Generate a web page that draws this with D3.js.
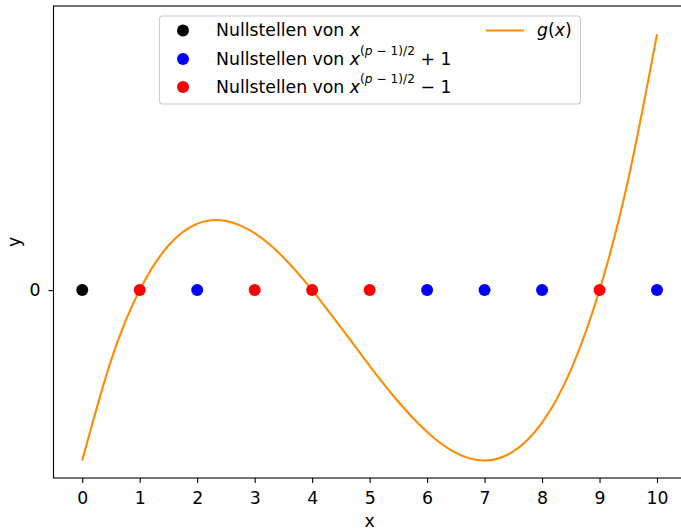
<!DOCTYPE html>
<html><head><meta charset="utf-8">
<script src="https://cdn.jsdelivr.net/npm/d3@7/dist/d3.min.js"></script>
<style>body{margin:0;background:#fff}svg{display:block}text{font-family:"DejaVu Sans",sans-serif}</style>
</head><body>
<script>
// data
const zeroX = [0];
const plusOneX = [2, 6, 7, 8, 10];
const minusOneX = [1, 3, 4, 5, 9];
const curveX = [0,0.5,1,1.5,2,2.5,3,3.5,4,4.5,5,5.5,6,6.5,7,7.5,8,8.5,9,9.5,10];
const curveY = [-36,-14.9,0,9.4,14,14.6,12,6.9,0,-7.9,-16,-23.6,-30,-34.4,-36,-34.1,-28,-16.9,0,23.4,54];
const xTicks = [0,1,2,3,4,5,6,7,8,9,10];
const yTicks = [0];

const W = 681, H = 530, FS = 17.3;
const L = 53.5, R = 685.75, T = 6, B = 478;
const svg = d3.select("body").append("svg").attr("width", W).attr("height", H);
const x = d3.scaleLinear().domain([-0.5, 10.5]).range([L, R]);
const y = d3.scaleLinear().domain([-39.7, 60]).range([B, T]);

// curve
const line = d3.line().x(d => x(d[0])).y(d => y(d[1])).curve(d3.curveNatural);
svg.append("path").datum(curveX.map((v, i) => [v, curveY[i]]))
  .attr("d", line).attr("fill", "none").attr("stroke", "#ff8c00").attr("stroke-width", 2.1);

// points
const groups = [[zeroX, "#000"], [plusOneX, "#0000ff"], [minusOneX, "#ff0000"]];
groups.forEach(([arr, c]) => {
  svg.append("g").selectAll("circle").data(arr).join("circle")
    .attr("cx", d => x(d)).attr("cy", y(0)).attr("r", 6).attr("fill", c);
});

// axes
const xa = svg.append("g").attr("transform", `translate(0,${B})`)
  .call(d3.axisBottom(x).tickValues(xTicks).tickSize(5).tickPadding(8.5).tickSizeOuter(0));
const ya = svg.append("g").attr("transform", `translate(${L},0)`)
  .call(d3.axisLeft(y).tickValues(yTicks).tickSize(5).tickPadding(8).tickSizeOuter(0));
[xa, ya].forEach(a => {
  a.selectAll("text").attr("font-size", FS).attr("fill", "#000").style("font-family", '"DejaVu Sans",sans-serif');
  a.selectAll("line").attr("stroke", "#000").attr("stroke-width", 1.1);
  a.select(".domain").remove();
});
// spines
svg.append("rect").attr("x", L).attr("y", T).attr("width", R - L).attr("height", B - T)
  .attr("fill", "none").attr("stroke", "#000").attr("stroke-width", 1.1);

svg.append("text").attr("x", (L + R) / 2).attr("y", 527).attr("text-anchor", "middle")
  .attr("font-size", FS).text("x");
svg.append("text").attr("transform", `translate(19.5,${(T + B) / 2}) rotate(-90)`).attr("text-anchor", "middle")
  .attr("font-size", FS).text("y");

// legend
const lg = svg.append("g");
lg.append("rect").attr("x", 159.5).attr("y", 16).attr("width", 421).attr("height", 88).attr("rx", 3)
  .attr("fill", "#fff").attr("fill-opacity", 0.8).attr("stroke", "#cccccc").attr("stroke-width", 1.1);
const rows = [["#000", 30.5, 0], ["#0000ff", 59, 1], ["#ff0000", 87, -1]];
rows.forEach(([c, cy, kind]) => {
  lg.append("circle").attr("cx", 183).attr("cy", cy).attr("r", 6).attr("fill", c);
  const t = lg.append("text").attr("x", 216).attr("y", cy + 5.8).attr("font-size", FS);
  t.append("tspan").text("Nullstellen von ");
  t.append("tspan").attr("font-style", "italic").text("x");
  if (kind !== 0) {
    t.append("tspan").attr("font-size", 12.2).attr("dy", -10).text("(");
    t.append("tspan").attr("font-size", 12.2).attr("font-style", "italic").text("p");
    t.append("tspan").attr("font-size", 12.2).text(" − 1)/2");
    t.append("tspan").attr("dy", 10).text(kind > 0 ? "  + 1" : "  − 1");
  }
});
lg.append("line").attr("x1", 486).attr("x2", 524).attr("y1", 30.5).attr("y2", 30.5)
  .attr("stroke", "#ff8c00").attr("stroke-width", 2.1);
const gt = lg.append("text").attr("x", 537).attr("y", 36.3).attr("font-size", FS);
gt.append("tspan").attr("font-style", "italic").text("g");
gt.append("tspan").text("(");
gt.append("tspan").attr("font-style", "italic").text("x");
gt.append("tspan").text(")");
</script>
</body></html>
